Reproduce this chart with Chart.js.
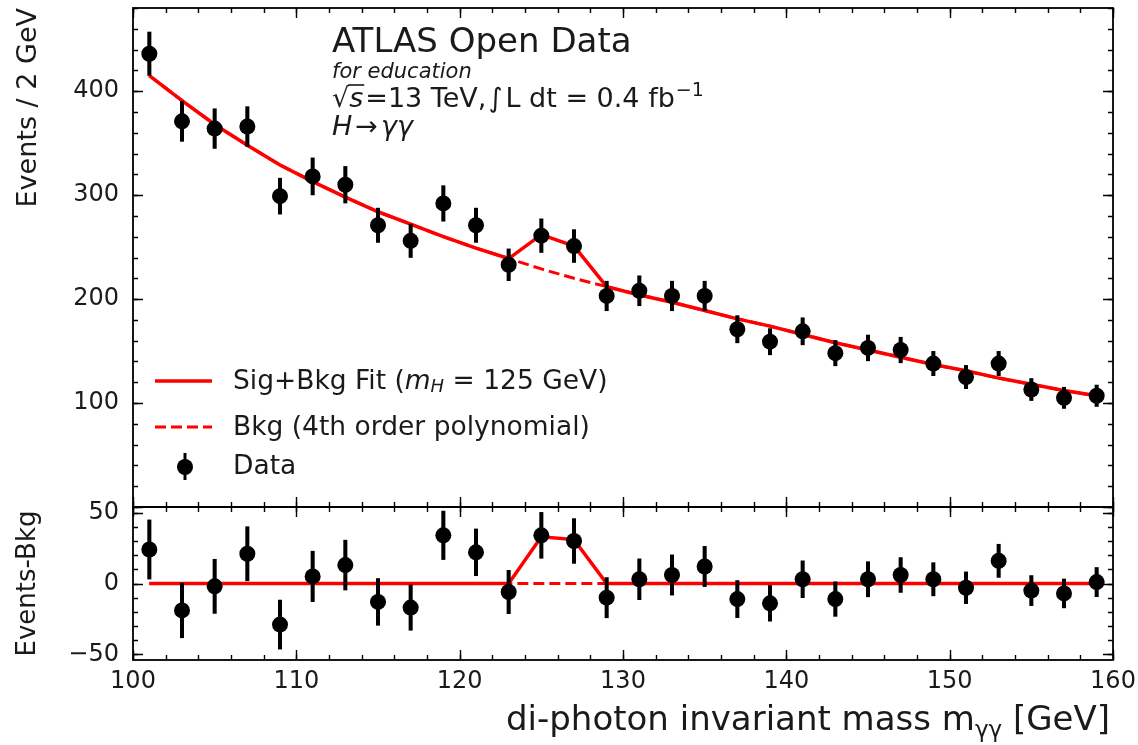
<!DOCTYPE html>
<html><head><meta charset="utf-8">
<script src="https://cdn.jsdelivr.net/npm/chart.js@4.4.0/dist/chart.umd.min.js"></script>
<style>
html,body{margin:0;padding:0;background:#fff;}
#wrap{position:relative;width:1138px;height:745px;background:#fff;}
canvas{position:absolute;left:0;top:0;}
</style></head><body>
<div id="wrap">
<canvas id="main" width="1138" height="745"></canvas>
<canvas id="ratio" width="1138" height="745"></canvas>
</div>
<script>
// ---- data ----
const massBins   = [101,103,105,107,109,111,113,115,117,119,121,123,125,127,129,131,133,135,137,139,141,143,145,147,149,151,153,155,157,159];
const dataCounts = [436,371,364,366,299,318,310,271,256,292,271,233,261,251,203,208,203,203,171,159,169,148,153,151,138,125,138,113,105,107];
const dataErrors = [20.9,19.3,19.1,19.1,17.3,17.8,17.6,16.5,16.0,17.1,16.5,15.3,16.2,15.8,14.2,14.4,14.2,14.2,13.1,12.6,13.0,12.2,12.4,12.3,11.7,11.2,11.7,10.6,10.2,10.3];
const bkgFit     = [415,391,368,348,329,313,298,284,272,260,249,239,229,220,212,204,197,189,181,174,166,158,151,144,137,131,124,118,112,107];
const sigFit     = [0,0,0,0,0,0,0,0,0,0,0,0,33,31,0,0,0,0,0,0,0,0,0,0,0,0,0,0,0,0];
const residuals  = [24,-19,-2,21,-29,5,13,-13,-17,34,22,-6,34,30,-10,3,6,12,-11,-14,3,-11,3,6,3,-3,16,-5,-7,1];
const xTickLabels     = [100,110,120,130,140,150,160];
const yTickLabelsMain = [100,200,300,400];
const yTickLabelsRes  = [-50,0,50];

const FF = "'DejaVu Sans', sans-serif";
const RED = '#ff0000';
const TXT = '#1a1a1a';

function drawRich(ctx, x, y, segs, align) {
  let w = 0;
  for (const s of segs) { ctx.font = s.f; w += ctx.measureText(s.t).width + (s.gap || 0); }
  let cx = align === 'right' ? x - w : x;
  for (const s of segs) {
    ctx.font = s.f;
    ctx.fillText(s.t, cx, y + (s.dy || 0));
    const sw = ctx.measureText(s.t).width;
    if (s.over) {
      ctx.save(); ctx.strokeStyle = ctx.fillStyle; ctx.lineWidth = 1.6;
      ctx.beginPath(); ctx.moveTo(cx - 1, y - s.over); ctx.lineTo(cx + sw + 1, y - s.over); ctx.stroke();
      ctx.restore();
    }
    cx += sw + (s.gap || 0);
  }
}

const frameTicks = {
  id: 'frameTicks',
  afterDatasetsDraw(chart, args, o) {
    const {ctx, chartArea: a, scales} = chart;
    const xs = scales.x, ys = scales.y;
    ctx.save();
    ctx.strokeStyle = '#000';
    ctx.lineWidth = 1.4;
    const xt = (step, len) => {
      const start = Math.ceil(xs.min / step - 1e-9) * step;
      for (let v = start; v <= xs.max + 1e-9; v += step) {
        const px = Math.round(xs.getPixelForValue(v)) + 0.5;
        ctx.beginPath();
        ctx.moveTo(px, a.bottom); ctx.lineTo(px, a.bottom - len);
        ctx.moveTo(px, a.top); ctx.lineTo(px, a.top + len);
        ctx.stroke();
      }
    };
    const yt = (step, len) => {
      const start = Math.ceil(ys.min / step - 1e-9) * step;
      for (let v = start; v <= ys.max + 1e-9; v += step) {
        const py = Math.round(ys.getPixelForValue(v)) + 0.5;
        ctx.beginPath();
        ctx.moveTo(a.left, py); ctx.lineTo(a.left + len, py);
        ctx.moveTo(a.right, py); ctx.lineTo(a.right - len, py);
        ctx.stroke();
      }
    };
    xt(o.xMinor, 5); xt(o.xMajor, 10);
    yt(o.yMinor, 5); yt(o.yMajor, 10);
    ctx.lineWidth = 1.8;
    ctx.strokeRect(a.left, a.top, a.width, a.height);
    ctx.restore();
  }
};

const annotations = {
  id: 'annotations',
  afterDraw(chart) {
    const ctx = chart.ctx;
    ctx.save();
    ctx.fillStyle = TXT;
    ctx.textBaseline = 'alphabetic';
    ctx.textAlign = 'left';
    const n = "27px " + FF, it = "italic 27px " + FF;
    drawRich(ctx, 332, 52, [{t: 'ATLAS Open Data', f: "34px " + FF}]);
    drawRich(ctx, 332, 78, [{t: 'for education', f: "italic 21px " + FF}]);
    drawRich(ctx, 332, 107, [
      {t: '\u221A', f: n},
      {t: 's', f: it, over: 22, gap: 2},
      {t: '=13 TeV,', f: n, gap: 2},
      {t: '\u222B', f: n, gap: 3},
      {t: 'L dt = 0.4 fb', f: n, gap: 1},
      {t: '\u22121', f: "19px " + FF, dy: -11}
    ]);
    drawRich(ctx, 332, 135, [
      {t: 'H', f: it, gap: 3},
      {t: '\u2192', f: n, gap: 3},
      {t: '\u03B3\u03B3', f: it}
    ]);
    // legend
    const ln = "26.5px " + FF;
    ctx.textBaseline = 'middle';
    ctx.strokeStyle = RED;
    ctx.lineWidth = 3.5;
    ctx.beginPath(); ctx.moveTo(155, 381); ctx.lineTo(212, 381); ctx.stroke();
    ctx.lineWidth = 3;
    ctx.setLineDash([11, 5]);
    ctx.beginPath(); ctx.moveTo(155, 427); ctx.lineTo(212, 427); ctx.stroke();
    ctx.setLineDash([]);
    ctx.strokeStyle = '#000';
    ctx.beginPath(); ctx.moveTo(185, 453); ctx.lineTo(185, 480); ctx.stroke();
    ctx.fillStyle = '#000';
    ctx.beginPath(); ctx.arc(185, 467, 8, 0, Math.PI * 2); ctx.fill();
    ctx.fillStyle = TXT;
    drawRich(ctx, 233, 382, [
      {t: 'Sig+Bkg Fit (', f: ln},
      {t: 'm', f: "italic 26.5px " + FF},
      {t: 'H', f: "italic 18px " + FF, dy: 5},
      {t: ' = 125 GeV)', f: ln}
    ]);
    drawRich(ctx, 233, 428, [{t: 'Bkg (4th order polynomial)', f: ln}]);
    drawRich(ctx, 233, 467, [{t: 'Data', f: ln}]);
    ctx.restore();
  }
};

const xTitle = {
  id: 'xTitle',
  afterDraw(chart) {
    const ctx = chart.ctx, a = chart.chartArea;
    ctx.save();
    ctx.fillStyle = TXT;
    ctx.textBaseline = 'alphabetic';
    drawRich(ctx, a.right - 3, 730, [
      {t: 'di-photon invariant mass m', f: "34px " + FF},
      {t: '\u03B3\u03B3', f: "23px " + FF, dy: 7},
      {t: ' [GeV]', f: "34px " + FF}
    ], 'right');
    ctx.restore();
  }
};

const tickFont = {family: FF, size: 24};
function yFit(s) { s.width = 133; s.paddingTop = 0; s.paddingBottom = 0; }
function fmt(v) { return v < 0 ? '\u2212' + Math.abs(v) : String(v); }

const pts = (ys) => massBins.map((x, i) => ({x, y: ys[i]}));
const bars = (ys) => massBins.map((x, i) => ({x, y: [ys[i] - dataErrors[i], ys[i] + dataErrors[i]]}));

const commonDatasets = (vals, bkgLine, sbLine) => [
  {type: 'scatter', data: pts(vals), pointRadius: 8, pointHoverRadius: 8, backgroundColor: '#000', borderWidth: 0, order: 0},
  {type: 'bar', data: bars(vals), backgroundColor: '#000', barThickness: 3.4, borderWidth: 0, order: 1},
  {type: 'line', data: pts(sbLine), borderColor: RED, borderWidth: 3.5, pointRadius: 0, fill: false, tension: 0, order: 2},
  {type: 'line', data: pts(bkgLine), borderColor: RED, borderWidth: 3, borderDash: [11, 5], pointRadius: 0, fill: false, tension: 0, order: 3}
];

Chart.defaults.font.family = FF;

const sigPlusBkg = bkgFit.map((b, i) => b + sigFit[i]);
new Chart(document.getElementById('main'), {
  type: 'scatter',
  data: {datasets: commonDatasets(dataCounts, bkgFit, sigPlusBkg)},
  options: {
    responsive: false, animation: false, events: [],
    layout: {padding: {left: 0, top: 8, right: 25, bottom: 238}},
    plugins: {legend: {display: false}, tooltip: {enabled: false},
      frameTicks: {xMajor: 10, xMinor: 2, yMajor: 100, yMinor: 20}},
    scales: {
      x: {type: 'linear', min: 100, max: 160, offset: false, display: false},
      y: {type: 'linear', min: 0, max: 480,
        grid: {display: false, drawTicks: false}, border: {display: false},
        afterBuildTicks: s => { s.ticks = yTickLabelsMain.map(v => ({value: v})); },
        afterFit: yFit,
        ticks: {font: tickFont, color: TXT, padding: 14, callback: fmt},
        title: {display: true, text: 'Events / 2 GeV', align: 'end', color: TXT,
          font: {family: FF, size: 27}, padding: {top: 13, bottom: 0}}
      }
    }
  },
  plugins: [frameTicks, annotations]
});

new Chart(document.getElementById('ratio'), {
  type: 'scatter',
  data: {datasets: commonDatasets(residuals, bkgFit.map(() => 0), sigFit)},
  options: {
    responsive: false, animation: false, events: [],
    layout: {padding: {left: 0, top: 507, right: 25, bottom: 0}},
    plugins: {legend: {display: false}, tooltip: {enabled: false},
      frameTicks: {xMajor: 10, xMinor: 2, yMajor: 50, yMinor: 10}},
    scales: {
      x: {type: 'linear', min: 100, max: 160, offset: false,
        grid: {display: false, drawTicks: false}, border: {display: false},
        afterBuildTicks: s => { s.ticks = xTickLabels.map(v => ({value: v})); },
        afterFit: s => { s.height = 85; s.paddingLeft = 0; s.paddingRight = 0; },
        ticks: {font: tickFont, color: TXT, padding: 7, maxRotation: 0, autoSkip: false}
      },
      y: {type: 'linear', min: -54, max: 54,
        grid: {display: false, drawTicks: false}, border: {display: false},
        afterBuildTicks: s => { s.ticks = yTickLabelsRes.map(v => ({value: v})); },
        afterFit: yFit,
        ticks: {font: tickFont, color: TXT, padding: 14, callback: fmt},
        title: {display: true, text: 'Events-Bkg', align: 'center', color: TXT,
          font: {family: FF, size: 26}, padding: {top: 13, bottom: 0}}
      }
    }
  },
  plugins: [frameTicks, xTitle]
});
</script>
</body></html>
